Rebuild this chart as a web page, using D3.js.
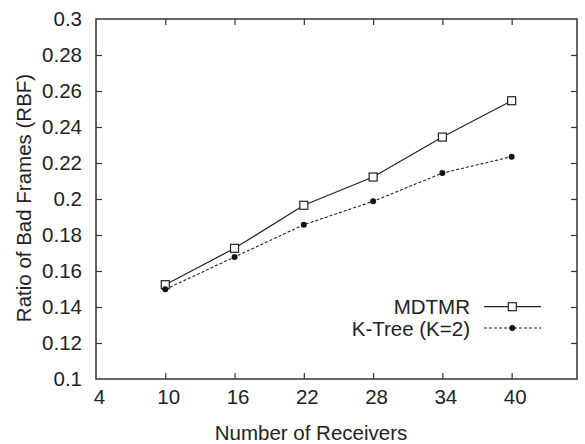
<!DOCTYPE html>
<html>
<head>
<meta charset="utf-8">
<script src="https://cdn.jsdelivr.net/npm/d3@7"></script>
<style>
  html, body { margin: 0; padding: 0; background: #fff; }
  svg { display: block; font-family: "Liberation Sans", Arial, sans-serif; }
</style>
</head>
<body>
<svg id="chart" width="585" height="444"></svg>
<script>
const receivers = [10, 16, 22, 28, 34, 40];
const mdtmr = [0.1524, 0.1726, 0.1965, 0.2122, 0.2344, 0.2546];
const ktree = [0.1498, 0.1678, 0.1857, 0.1987, 0.2144, 0.2235];
const xTicks = [4, 10, 16, 22, 28, 34, 40];
const yTicks = [0.1, 0.12, 0.14, 0.16, 0.18, 0.2, 0.22, 0.24, 0.26, 0.28, 0.3];
const seriesNames = ["MDTMR", "K-Tree (K=2)"];

const svg = d3.select("#chart");
const L = 96, R = 577, T = 19, B = 379;
const x = d3.scaleLinear().domain([4, 45.66]).range([L, R]);
const y = d3.scaleLinear().domain([0.1, 0.3]).range([B, T]);
const axisColor = "#333";
const fs = 20.5;

// frame
svg.append("rect").attr("x", L).attr("y", T).attr("width", R - L).attr("height", B - T)
  .attr("fill", "none").attr("stroke", axisColor).attr("stroke-width", 1.5);

const tickLen = 6;
const gl = svg.append("g").attr("transform", `translate(${L},0)`)
  .call(d3.axisLeft(y).tickValues(yTicks).tickSize(-tickLen).tickPadding(14)
    .tickFormat(d => d3.format("~g")(d)));
const gr = svg.append("g").attr("transform", `translate(${R},0)`)
  .call(d3.axisRight(y).tickValues(yTicks.slice(1, -1)).tickSize(-tickLen).tickFormat(""));
const gb = svg.append("g").attr("transform", `translate(0,${B})`)
  .call(d3.axisBottom(x).tickValues(xTicks).tickSize(-tickLen).tickPadding(10)
    .tickFormat(d3.format("d")));
const gt = svg.append("g").attr("transform", `translate(0,${T})`)
  .call(d3.axisTop(x).tickValues(xTicks.slice(1)).tickSize(-tickLen).tickFormat(""));

[gl, gr, gb, gt].forEach(g => {
  g.select(".domain").remove();
  g.selectAll(".tick line").attr("stroke", axisColor).attr("stroke-width", 1.2);
  g.selectAll("text").attr("fill", "#222").style("font-size", fs + "px")
    .style("font-family", "'Liberation Sans', Arial, sans-serif");
});
gl.selectAll(".tick line").filter(d => d === 0.1 || d === 0.3).remove();
gb.selectAll(".tick line").filter(d => d === 4).remove();
gb.selectAll("text").attr("dx", 3);

// Axis titles
svg.append("text").attr("x", 311).attr("y", 432).attr("text-anchor", "middle")
  .attr("dominant-baseline", "central").attr("fill", "#222").style("font-size", fs + "px")
  .text("Number of Receivers");
svg.append("text").attr("transform", `translate(23,198) rotate(-90)`)
  .attr("text-anchor", "middle").attr("dominant-baseline", "central")
  .attr("fill", "#222").style("font-size", fs + "px")
  .text("Ratio of Bad Frames (RBF)");

// Lines
const line = d3.line().x((d, i) => x(receivers[i])).y(d => y(d));
svg.append("path").datum(mdtmr).attr("d", line).attr("fill", "none")
  .attr("stroke", "#222").attr("stroke-width", 1.2);
svg.append("path").datum(ktree).attr("d", line).attr("fill", "none")
  .attr("stroke", "#222").attr("stroke-width", 1.1).attr("stroke-dasharray", "3,2");

// Markers
svg.selectAll(".sq").data(mdtmr).enter().append("rect")
  .attr("x", (d, i) => x(receivers[i]) - 4).attr("y", d => y(d) - 4)
  .attr("width", 8).attr("height", 8)
  .attr("fill", "#fff").attr("stroke", "#222").attr("stroke-width", 1.2);
svg.selectAll(".dot").data(ktree).enter().append("circle")
  .attr("cx", (d, i) => x(receivers[i])).attr("cy", d => y(d)).attr("r", 3)
  .attr("fill", "#111");

// Legend
const legY = [306.7, 328];
const lg = svg.append("g");
seriesNames.forEach((name, i) => {
  lg.append("text").attr("x", 470).attr("y", legY[i]).attr("text-anchor", "end")
    .attr("dominant-baseline", "central").attr("fill", "#222").style("font-size", fs + "px")
    .text(name);
  lg.append("line").attr("x1", 484).attr("x2", 541).attr("y1", legY[i]).attr("y2", legY[i])
    .attr("stroke", "#222").attr("stroke-width", i === 0 ? 1.2 : 1.1)
    .attr("stroke-dasharray", i === 0 ? null : "3,2");
  if (i === 0) {
    lg.append("rect").attr("x", 512.3 - 4).attr("y", legY[i] - 4).attr("width", 8).attr("height", 8)
      .attr("fill", "#fff").attr("stroke", "#222").attr("stroke-width", 1.2);
  } else {
    lg.append("circle").attr("cx", 512.3).attr("cy", legY[i]).attr("r", 3).attr("fill", "#111");
  }
});
</script>
</body>
</html>
